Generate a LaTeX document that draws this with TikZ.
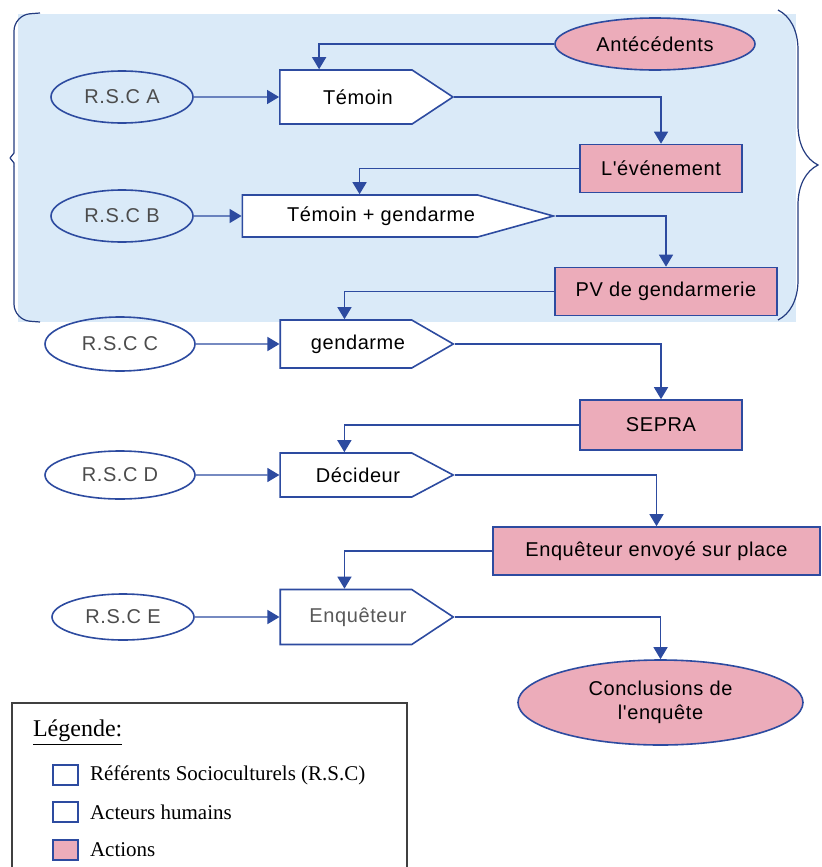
\documentclass[tikz,border=0pt]{standalone}
\usepackage{fontspec}
\setmainfont{Liberation Serif}
\newfontfamily\diagfont[LetterSpace=3]{Liberation Sans}
\usetikzlibrary{shapes.geometric,shapes.symbols,arrows.meta,calc,decorations.pathreplacing}

\definecolor{trait}{RGB}{45,75,160}
\definecolor{rose}{RGB}{236,172,186}
\definecolor{fond}{RGB}{218,234,248}

\tikzset{
  rsc/.style={ellipse, draw=trait, line width=0.8pt, minimum width=71pt, minimum height=26pt, inner sep=0pt, text=black!70, font=\diagfont\fontsize{10}{12}\selectfont},
  acteur/.style={signal, signal to=east, signal from=nowhere, draw=trait, fill=white, line width=0.8pt, minimum width=86.5pt, inner sep=0pt, font=\diagfont\fontsize{10}{12}\selectfont},
  action/.style={rectangle, draw=trait, fill=rose, line width=0.8pt, minimum width=81pt, minimum height=24pt, inner sep=0pt, font=\diagfont\fontsize{10}{12}\selectfont},
  flow/.style={draw=trait, line width=0.7pt, -{Triangle[width=7pt,length=6pt]}},
  accolade/.style={draw=trait!80!black, line width=0.6pt},
  legbox/.style={draw=trait, line width=0.6pt, minimum width=12.5pt, minimum height=10pt, inner sep=0pt},
}

\begin{document}
\begin{tikzpicture}[x=0.5pt, y=-0.5pt]
\useasboundingbox (0,0) rectangle (821,867);

% zone bleue et accolades
\fill[fond] (18,14) rectangle (796,322);
\draw[accolade, rounded corners=8pt] (40,13) -- (14,15) -- (14,150);
\draw[accolade, line join=round] (14,150) -- (14,153) -- (10,158) -- (14,163) -- (14,166);
\draw[accolade, rounded corners=8pt] (14,166) -- (14,320) -- (40,322);
\draw[accolade, decorate, decoration={brace, amplitude=20pt}] (778,10) -- (778,320);

% actions
\node[action, ellipse, minimum width=100pt, minimum height=26pt] (ante) at (655,44) {Antécédents};
\node[action] (evt) at (661,168.5) {L'événement};
\node[action, minimum width=111pt] (pv) at (666,291.5) {PV de gendarmerie};
\node[action, minimum height=25pt] (sepra) at (661,425) {SEPRA};
\node[action, minimum width=163.5pt] (envoi) at (656.5,551) {Enquêteur envoyé sur place};
\node[action, ellipse, minimum width=142.5pt, minimum height=42.5pt, align=center] (concl) at (660.5,702.5) {Conclusions de\\l'enquête};

% referents socioculturels
\node[rsc] (rsca) at (122,97) {R.S.C A};
\node[rsc] (rscb) at (122,216) {R.S.C B};
\node[rsc, minimum width=75pt, minimum height=27pt] (rscc) at (120,344) {R.S.C C};
\node[rsc, minimum width=75pt, minimum height=24pt] (rscd) at (120,475) {R.S.C D};
\node[rsc, minimum height=23pt] (rsce) at (123,617) {R.S.C E};

% acteurs humains
\node[acteur, minimum height=27pt, signal pointer angle=67] (temoin) at (346,97) {\hspace*{12pt}Témoin};
\node[acteur, minimum width=155.5pt, minimum height=21pt, signal pointer angle=31] (temgend) at (360,216) {\hspace*{21pt}Témoin + gendarme};
\node[acteur, minimum height=24pt, signal pointer angle=60] (gend) at (346,344) {\hspace*{12pt}gendarme};
\node[acteur, minimum height=22pt, signal pointer angle=56] (decid) at (346,475) {\hspace*{12pt}Décideur};
\node[acteur, minimum height=27.5pt, signal pointer angle=67, text=black!65] (enqu) at (346,617) {\hspace*{12pt}Enquêteur};

% liens
\draw[flow] (rsca) -- (temoin);
\draw[flow] (rscb) -- (temgend);
\draw[flow] (rscc) -- (gend);
\draw[flow] (rscd) -- (decid);
\draw[flow] (rsce) -- (enqu);

\draw[flow] (ante.west) -| ($(temoin.west |- temoin.north)+(20pt,0)$);
\draw[flow] (temoin.east) -| (evt.north);
\draw[flow] (evt.west) -| ($(temgend.west |- temgend.north)+(59pt,0)$);
\draw[flow] (temgend.east) -| (pv.north);
\draw[flow] (pv.west) -| ($(gend.west |- gend.north)+(32.5pt,0)$);
\draw[flow] (gend.east) -| (sepra.north);
\draw[flow] (sepra.west) -| ($(decid.west |- decid.north)+(32.5pt,0)$);
\draw[flow] (decid.east) -| (envoi.north);
\draw[flow] (envoi.west) -| ($(enqu.west |- enqu.north)+(32.5pt,0)$);
\draw[flow] (enqu.east) -| (concl.north);

% legende
\draw[black!75, line width=0.6pt] (12,870) -- (12,703) -- (407,703) -- (407,870);
\node[anchor=west, font=\fontsize{12}{14}\selectfont] (legtitre) at (26,733) {\underline{Légende:}};
\node[legbox] (carre1) at (65.5,775) {};
\node[legbox] (carre2) at (65.5,812) {};
\node[legbox, fill=rose] (carre3) at (65.5,850) {};
\node[anchor=west, font=\fontsize{10.5}{12}\selectfont] (leg1) at (83,775) {Référents Socioculturels (R.S.C)};
\node[anchor=west, font=\fontsize{10.5}{12}\selectfont] (leg2) at (83,812) {Acteurs humains};
\node[anchor=west, font=\fontsize{10.5}{12}\selectfont] (leg3) at (83,850) {Actions};
\end{tikzpicture}
\end{document}
